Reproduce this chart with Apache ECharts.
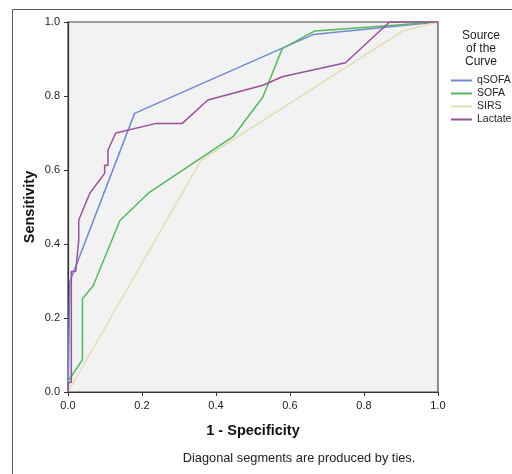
<!DOCTYPE html>
<html>
<head>
<meta charset="utf-8">
<script src="https://cdn.jsdelivr.net/npm/echarts@6/dist/echarts.min.js"></script>
<style>
  html, body { margin: 0; padding: 0; background: #fff; }
</style>
</head>
<body>
<div id="rocChart" style="width: 512px; height: 474px"></div>
<script>
// 1 - Specificity (x) and Sensitivity (y) per curve
const qsofaX = [0, 0.005, 0.18, 0.662, 1];
const qsofaY = [0, 0.298, 0.753, 0.966, 1];

const sofaX = [0, 0.0, 0.039, 0.039, 0.068, 0.14, 0.219, 0.446, 0.527, 0.579, 0.667, 1];
const sofaY = [0, 0.029, 0.087, 0.252, 0.287, 0.463, 0.539, 0.69, 0.798, 0.928, 0.976, 1];

const sirsX = [0, 0.36, 0.905, 1];
const sirsY = [0, 0.627, 0.976, 1];

const lactateX = [0, 0, 0.009, 0.009, 0.021, 0.029, 0.029, 0.059, 0.099, 0.099, 0.108, 0.108, 0.129, 0.239, 0.309, 0.378, 0.527, 0.579, 0.75, 0.869, 1];
const lactateY = [0, 0.026, 0.026, 0.326, 0.326, 0.411, 0.465, 0.537, 0.591, 0.613, 0.613, 0.654, 0.70, 0.726, 0.726, 0.789, 0.829, 0.852, 0.89, 1.0, 1];

const curveNames = ["qSOFA", "SOFA", "SIRS", "Lactate"];
const curveColors = ["#7088d2", "#52bb5e", "#e2ddb4", "#9a4f9f"];

function pairs(xs, ys) {
  return xs.map((x, i) => [x, ys[i]]);
}

const curves = [
  pairs(qsofaX, qsofaY),
  pairs(sofaX, sofaY),
  pairs(sirsX, sirsY),
  pairs(lactateX, lactateY),
];

const chart = echarts.init(document.getElementById("rocChart"));

const axisCommon = {
  type: "value",
  min: 0,
  max: 1,
  interval: 0.2,
  nameLocation: "middle",
  nameMoveOverlap: false,
  nameTextStyle: { color: "#111", fontSize: 14.5, fontWeight: "bold", fontFamily: "Liberation Sans, Arial" },
  axisLine: { show: true, lineStyle: { color: "#333", width: 1.2 } },
  axisTick: { show: true, length: 4, lineStyle: { color: "#333" } },
  axisLabel: {
    color: "#222",
    fontSize: 11,
    fontFamily: "Liberation Sans, Arial",
    formatter: (v) => v.toFixed(1),
  },
  splitLine: { show: false },
};

const option = {
  animation: false,
  color: curveColors,
  textStyle: { fontFamily: "Liberation Sans, Arial" },
  title: [
    {
      text: "Source\nof the\nCurve",
      left: 481,
      top: 29,
      padding: 0,
      textAlign: "center",
      textStyle: { fontSize: 12, fontWeight: "normal", color: "#222", lineHeight: 13 },
    },
    {
      text: "Diagonal segments are produced by ties.",
      left: 299,
      top: 452,
      padding: 0,
      textAlign: "center",
      textStyle: { fontSize: 12.8, fontWeight: "normal", color: "#222" },
    },
  ],
  graphic: [
    {
      type: "rect",
      shape: { x: 12.5, y: 9.5, width: 520, height: 480 },
      style: { fill: "none", stroke: "#555", lineWidth: 1 },
      silent: true,
    },
  ],
  legend: {
    orient: "vertical",
    left: 451,
    top: 74,
    padding: 0,
    itemGap: 0,
    itemWidth: 21,
    itemHeight: 2,
    itemTextGap: 0,
    icon: "rect",
    textStyle: { fontSize: 10.5, color: "#222", lineHeight: 13, padding: 0 },
    data: curveNames,
  },
  grid: {
    left: 68,
    right: 74,
    top: 22,
    bottom: 82,
    show: true,
    backgroundColor: "#f2f2f2",
    borderColor: "#444",
    borderWidth: 1.2,
  },
  xAxis: Object.assign({}, axisCommon, {
    name: "1 - Specificity",
    nameGap: 31,
  }),
  yAxis: Object.assign({}, axisCommon, {
    name: "Sensitivity",
    nameGap: 31,
  }),
  series: curveNames.map((name, i) => ({
    name: name,
    type: "line",
    data: curves[i],
    showSymbol: false,
    symbol: "none",
    lineStyle: { width: 1.5 },
  })),
};

chart.setOption(option, true);
</script>
</body>
</html>
